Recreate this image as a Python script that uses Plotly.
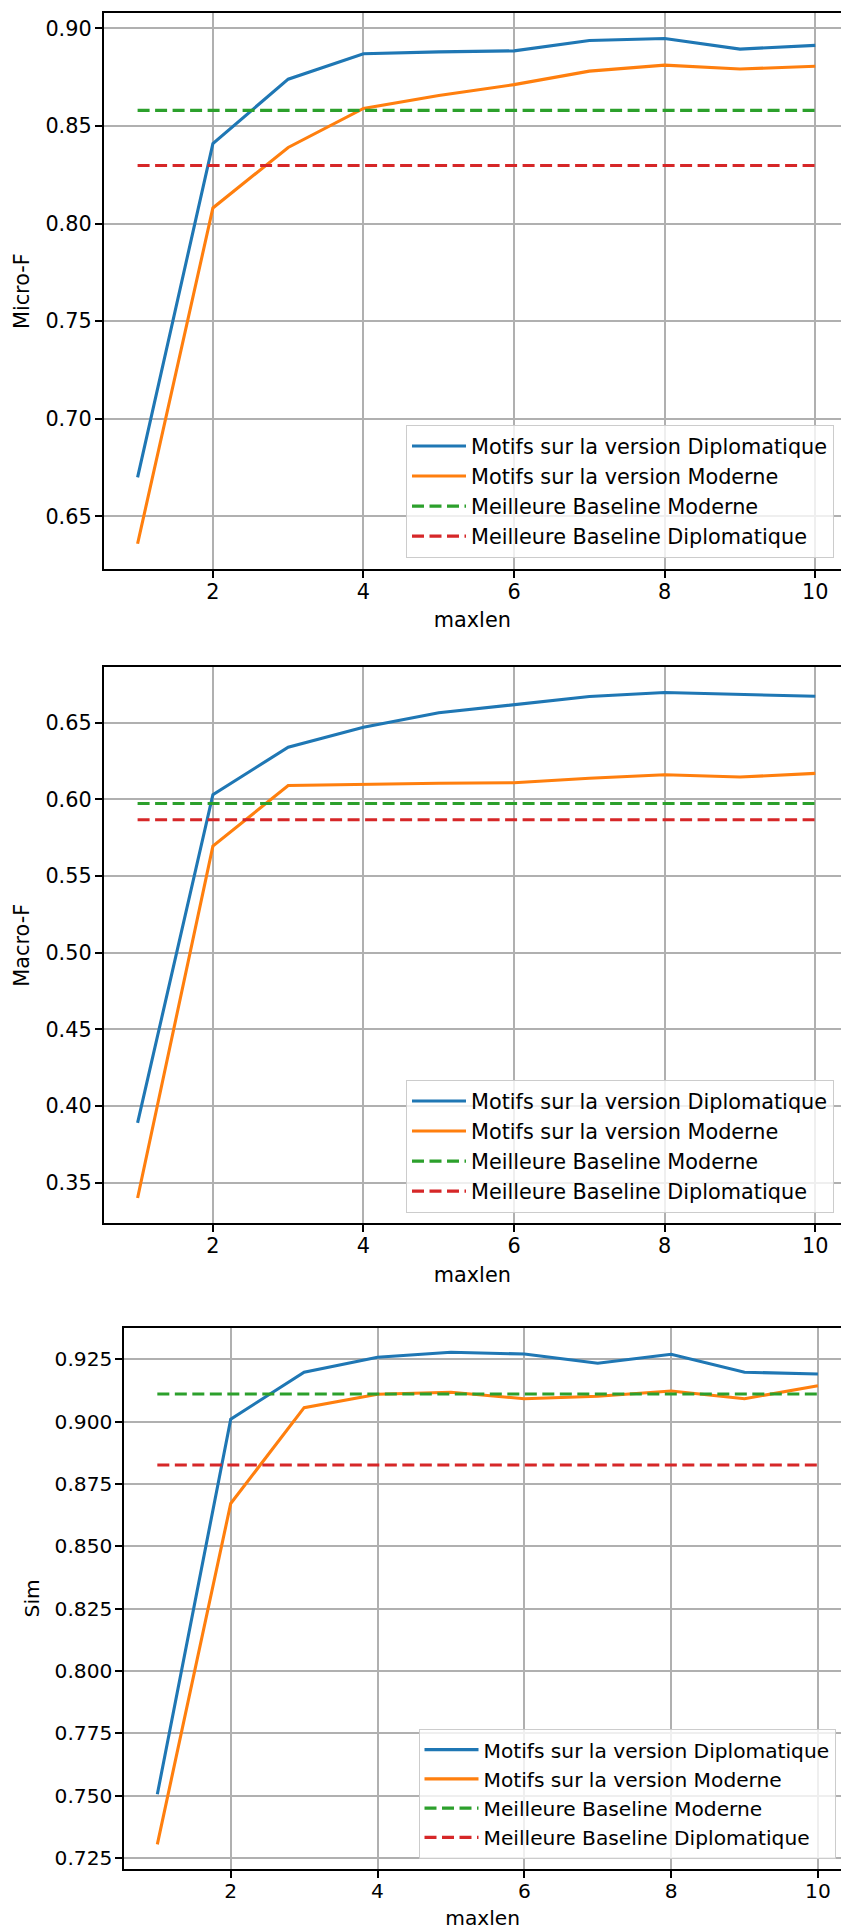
import plotly.graph_objects as go

# ---------------- data ----------------
maxlen = [1, 2, 3, 4, 5, 6, 7, 8, 9, 10]

series_names = [
    "Motifs sur la version Diplomatique",
    "Motifs sur la version Moderne",
    "Meilleure Baseline Moderne",
    "Meilleure Baseline Diplomatique",
]

micro_diplo = [0.670, 0.841, 0.874, 0.887, 0.888, 0.8885, 0.8938, 0.8948, 0.8894, 0.8913]
micro_moderne = [0.636, 0.808, 0.839, 0.859, 0.8656, 0.8712, 0.8781, 0.8812, 0.8792, 0.8806]
micro_base_moderne = 0.858
micro_base_diplo = 0.8298

macro_diplo = [0.389, 0.603, 0.634, 0.647, 0.6564, 0.6617, 0.667, 0.6696, 0.6685, 0.6672]
macro_moderne = [0.340, 0.5695, 0.609, 0.610, 0.6105, 0.6108, 0.6137, 0.616, 0.6145, 0.6169]
macro_base_moderne = 0.5973
macro_base_diplo = 0.5867

sim_diplo = [0.7506, 0.901, 0.9198, 0.9258, 0.9278, 0.9271, 0.9234, 0.927, 0.9198, 0.9191]
sim_moderne = [0.7305, 0.8672, 0.9056, 0.911, 0.9118, 0.9092, 0.9102, 0.9123, 0.9092, 0.9144]
sim_base_moderne = 0.9111
sim_base_diplo = 0.8826

y_titles = ["Micro-F", "Macro-F", "Sim"]
x_title = "maxlen"
x_ticks = [2, 4, 6, 8, 10]
micro_ticks = [0.65, 0.70, 0.75, 0.80, 0.85, 0.90]
macro_ticks = [0.35, 0.40, 0.45, 0.50, 0.55, 0.60, 0.65]
sim_ticks = [0.725, 0.750, 0.775, 0.800, 0.825, 0.850, 0.875, 0.900, 0.925]

# ---------------- style / layout ----------------
W, H = 841, 1930
colors = ["#1f77b4", "#ff7f0e", "#2ca02c", "#d62728"]
FONT = "DejaVu Sans"
LW = 3.1
DASH = "12px,5.5px"

panels = [
    dict(diplo=micro_diplo, moderne=micro_moderne, bm=micro_base_moderne, bd=micro_base_diplo,
         ticks=micro_ticks, fmt=".2f", title=y_titles[0],
         left=103.7, top=13.3, bottom=569.0, unit=75.3, fs=20.8,
         leg=(406, 425)),
    dict(diplo=macro_diplo, moderne=macro_moderne, bm=macro_base_moderne, bd=macro_base_diplo,
         ticks=macro_ticks, fmt=".2f", title=y_titles[1],
         left=103.7, top=667.3, bottom=1223.3, unit=75.3, fs=20.8,
         leg=(406, 1080)),
    dict(diplo=sim_diplo, moderne=sim_moderne, bm=sim_base_moderne, bd=sim_base_diplo,
         ticks=sim_ticks, fmt=".3f", title=y_titles[2],
         left=124.3, top=1327.7, bottom=1869.0, unit=73.4, fs=20.2,
         leg=(418.5, 1729)),
]

fig = go.Figure()
layout = dict(
    width=W, height=H,
    margin=dict(l=0, r=0, t=0, b=0),
    paper_bgcolor="white", plot_bgcolor="white",
    font=dict(family=FONT, color="black", size=20.8),
    showlegend=True,
)

for i, p in enumerate(panels, start=1):
    sfx = "" if i == 1 else str(i)
    xa, ya = "x" + sfx, "y" + sfx
    leg = "legend" + sfx
    ys = [p["diplo"], p["moderne"], [p["bm"]] * len(maxlen), [p["bd"]] * len(maxlen)]
    for k in range(4):
        fig.add_trace(go.Scatter(
            x=maxlen, y=ys[k], mode="lines", name=series_names[k],
            line=dict(color=colors[k], width=LW, dash=("solid" if k < 2 else DASH)),
            xaxis=xa, yaxis=ya, legend=leg, legendgroup=f"g{i}{k}",
        ))

    allv = p["diplo"] + p["moderne"] + [p["bm"], p["bd"]]
    lo, hi = min(allv), max(allv)
    pad = 0.05 * (hi - lo)
    x0 = maxlen[0] - 0.05 * (maxlen[-1] - maxlen[0])
    xr = x0 + (W - p["left"]) / p["unit"]

    axis_common = dict(
        showgrid=True, gridcolor="#b0b0b0", gridwidth=1.7,
        showline=True, linecolor="black", linewidth=1.7,
        ticks="outside", ticklen=7, tickwidth=1.7, tickcolor="black",
        zeroline=False,
        tickfont=dict(family=FONT, size=p["fs"], color="black"),
    )
    layout["xaxis" + sfx] = dict(
        axis_common,
        domain=[p["left"] / W, 1.0], anchor=ya,
        range=[x0, xr], tickvals=x_ticks, mirror=True,
        title=dict(text=x_title, font=dict(family=FONT, size=p["fs"]), standoff=10),
        ticklabelstandoff=-4,
    )
    layout["yaxis" + sfx] = dict(
        axis_common,
        domain=[1 - p["bottom"] / H, 1 - p["top"] / H], anchor=xa,
        range=[lo - pad, hi + pad], tickvals=p["ticks"], tickformat=p["fmt"],
        title=dict(text=p["title"], font=dict(family=FONT, size=p["fs"]), standoff=10),
        ticklabelstandoff=-1,
    )
    layout[leg] = dict(
        x=p["leg"][0] / W, y=1 - p["leg"][1] / H, xanchor="left", yanchor="top",
        bgcolor="rgba(255,255,255,0.8)", bordercolor="#cccccc", borderwidth=1,
        font=dict(family=FONT, size=p["fs"], color="black"),
        tracegroupgap=3.6, traceorder="normal", itemwidth=54,
    )

fig.update_layout(**layout)
fig.write_html(
    "out.html",
    config={"displayModeBar": False},
    post_script="document.body.style.margin='0';document.body.style.overflow='hidden';",
)
